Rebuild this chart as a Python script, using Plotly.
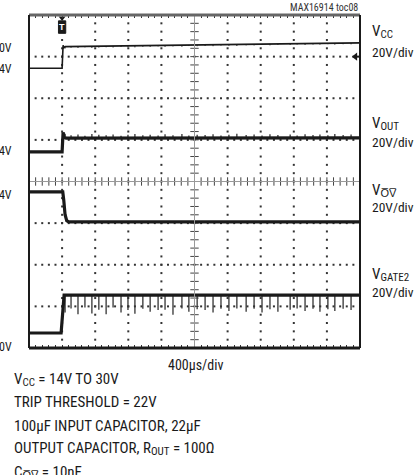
import plotly.graph_objects as go
import numpy as np

# ---------------- data (in scope divisions: x 0..10, y 0..8) ----------------
vcc_t = [0, 1.0, 1.03, 1.06, 1.10, 3.0, 5.0, 7.5, 10]
vcc_v = [6.72, 6.72, 7.27, 7.22, 7.24, 7.26, 7.28, 7.31, 7.33]

vout_t = [0, 1.0, 1.03, 1.06, 1.12, 10]
vout_v = [4.71, 4.71, 5.18, 5.06, 5.04, 5.05]

vov_t = [0, 1.02, 1.05, 1.09, 1.14, 1.20, 10]
vov_v = [3.75, 3.75, 3.55, 3.20, 3.06, 3.03, 3.03]

vgate_t = [0, 0.97, 1.06, 10]
vgate_v = [0.36, 0.36, 1.27, 1.27]

# switching spikes (time in div), depth of VGATE2 dips, height of VOUT blips
spike_t = [1.09, 1.27, 1.48, 1.69, 1.90, 2.11, 2.33, 2.54, 2.78, 2.99, 3.20,
           3.44, 3.66, 3.90, 4.11, 4.35, 4.62, 4.83, 5.08, 5.32, 5.56, 5.80,
           6.04, 6.28, 6.56, 6.80, 7.04, 7.28, 7.52, 7.89, 8.10, 8.34, 8.58,
           8.79, 9.03, 9.24, 9.49, 9.73]
gate_dip = [0.42, 0.32, 0.46, 0.30, 0.44, 0.35, 0.46, 0.30, 0.42, 0.36, 0.45,
            0.33, 0.40, 0.36, 0.35, 0.47, 0.32, 0.40, 0.34, 0.36, 0.42, 0.33,
            0.38, 0.32, 0.40, 0.33, 0.42, 0.34, 0.40, 0.35, 0.32, 0.38, 0.33,
            0.40, 0.34, 0.38, 0.33, 0.36]
out_blip = [0.10, 0.07, 0.09, 0.06, 0.10, 0.08, 0.07, 0.09, 0.06, 0.08, 0.10,
            0.07, 0.08, 0.06, 0.09, 0.07, 0.10, 0.06, 0.08, 0.07, 0.09, 0.06,
            0.08, 0.10, 0.07, 0.08, 0.06, 0.09, 0.07, 0.08, 0.06, 0.09, 0.07,
            0.08, 0.06, 0.09, 0.07, 0.08]

# ---------------- layout constants ----------------
W, H = 419, 475
L, R, T, B = 29, 360, 15, 348   # plot area in pixels
FONT = "Liberation Sans Narrow, Roboto Condensed, Liberation Sans, Arial, sans-serif"
INK = "#1a1a1a"


def px(xp, yp):
    return (xp - L) / (R - L), (B - yp) / (B - T)


fig = go.Figure()

# ---- graticule dots ----
minor_x = np.round(np.arange(0, 10.001, 0.2), 3)
minor_y = np.round(np.arange(0, 8.001, 0.2), 3)
gx, gy = [], []
for xv in range(1, 10):
    if xv == 5:
        continue
    gx += [xv] * len(minor_y)
    gy += list(minor_y)
for yv in range(1, 8):
    if yv == 4:
        continue
    gx += list(minor_x)
    gy += [yv] * len(minor_x)
fig.add_trace(go.Scatter(x=gx, y=gy, mode="markers",
                         marker=dict(symbol="square", size=2, color="#333"),
                         hoverinfo="skip", showlegend=False))
# center axes with ticks
fig.add_shape(type="line", x0=0, x1=10, y0=4, y1=4, line=dict(color="#999", width=1))
fig.add_shape(type="line", x0=5, x1=5, y0=0, y1=8, line=dict(color="#999", width=1))
fig.add_trace(go.Scatter(x=list(minor_x), y=[4] * len(minor_x), mode="markers",
                         marker=dict(symbol="line-ns", size=6,
                                     line=dict(color="#444", width=1)),
                         hoverinfo="skip", showlegend=False))
fig.add_trace(go.Scatter(x=[5] * len(minor_y), y=list(minor_y), mode="markers",
                         marker=dict(symbol="line-ew", size=6,
                                     line=dict(color="#444", width=1)),
                         hoverinfo="skip", showlegend=False))


def spikes(ts, base, amps, sign):
    xs, ys = [], []
    for t, a in zip(ts, amps):
        b = np.interp(t, *base)
        xs += [t, t, None]
        ys += [b, b + sign * a, None]
    return xs, ys


# ---- traces ----
sx, sy = spikes(spike_t, (vgate_t, vgate_v), gate_dip, -1)
fig.add_trace(go.Scatter(x=sx, y=sy, mode="lines", line=dict(color="#333", width=1.3),
                         hoverinfo="skip", showlegend=False))
sx, sy = spikes(spike_t, (vout_t, vout_v), out_blip, 1)
fig.add_trace(go.Scatter(x=sx, y=sy, mode="lines", line=dict(color="#222", width=1.2),
                         hoverinfo="skip", showlegend=False))
sx, sy = spikes(spike_t, (vcc_t, vcc_v), [a * 0.4 for a in out_blip], -1)
fig.add_trace(go.Scatter(x=sx, y=sy, mode="lines", line=dict(color="#222", width=1),
                         hoverinfo="skip", showlegend=False))

fig.add_trace(go.Scatter(x=vcc_t, y=vcc_v, mode="lines", line=dict(color=INK, width=1.6),
                         name="VCC", showlegend=False))
fig.add_trace(go.Scatter(x=vout_t, y=vout_v, mode="lines", line=dict(color=INK, width=3.2),
                         name="VOUT", showlegend=False))
fig.add_trace(go.Scatter(x=vov_t, y=vov_v, mode="lines", line=dict(color=INK, width=3.2),
                         name="VOV", showlegend=False))
fig.add_trace(go.Scatter(x=vgate_t, y=vgate_v, mode="lines", line=dict(color=INK, width=3.2),
                         name="VGATE2", showlegend=False))

# ground marker (ch1) and trigger marker
fig.add_trace(go.Scatter(x=[9.86], y=[7.0], mode="markers",
                         marker=dict(symbol="triangle-left", size=7, color=INK),
                         hoverinfo="skip", showlegend=False))
fig.add_shape(type="line", x0=9.86, x1=10, y0=7.0, y1=7.0, line=dict(color=INK, width=2))
fig.add_trace(go.Scatter(x=[1.0], y=[7.93], mode="markers",
                         marker=dict(symbol="triangle-down", size=6, color=INK),
                         hoverinfo="skip", showlegend=False))
fig.add_shape(type="rect", x0=0.89, x1=1.11, y0=7.56, y1=7.86,
              line=dict(color=INK, width=1), fillcolor=INK)
fig.add_annotation(x=1.0, y=7.71, text="<b>T</b>", showarrow=False,
                   font=dict(family="Liberation Sans, Arial", size=9, color="white"))

# ---- borders ----
fig.add_shape(type="line", xref="paper", yref="paper", x0=0, x1=1, y0=1, y1=1,
              line=dict(color="#666", width=3))
fig.add_shape(type="line", xref="paper", yref="paper", x0=0, x1=1, y0=0, y1=0,
              line=dict(color=INK, width=3))
fig.add_shape(type="line", xref="paper", yref="paper", x0=0, x1=0, y0=0, y1=1,
              line=dict(color=INK, width=2))
fig.add_shape(type="line", xref="paper", yref="paper", x0=1, x1=1, y0=0, y1=1,
              line=dict(color=INK, width=2))

# ---- text ----
def txt(xp, yp, s, size, anchor="left", color=INK):
    ax, ay = px(xp, yp)
    fig.add_annotation(xref="paper", yref="paper", x=ax, y=ay, text=s, showarrow=False,
                       xanchor=anchor, yanchor="middle",
                       font=dict(family=FONT, size=size, color=color))


def sub(s, size):
    return f"<span style='font-size:{size}px;baseline-shift:-2px'>{s}</span>"


txt(360, 8, "MAX16914 toc08", 10, "right", "#333")

# left level labels (partly off-canvas)
txt(14, 48, "30V", 12, "right")
txt(14, 69, "14V", 12, "right")
txt(14, 151, "14V", 12, "right")
txt(14, 195, "14V", 12, "right")
txt(14, 347, "0V", 12, "right")

# right channel labels
txt(370, 32, "V" + sub("CC", 11), 15)
txt(370, 52, "20V/div", 13.5)
txt(370, 124, "V" + sub("OUT", 11), 15)
txt(370, 142, "20V/div", 13.5)
txt(370, 190, "V" + sub("O\u0305V\u0305", 11), 15)
txt(370, 207, "20V/div", 13.5)
txt(370, 274, "V" + sub("GATE2", 11), 15)
txt(370, 292, "20V/div", 13.5)

txt(195, 365, "400\u00b5s/div", 14, "center")

lines = ["V" + sub("CC", 11) + " = 14V TO 30V",
         "TRIP THRESHOLD = 22V",
         "100\u00b5F INPUT CAPACITOR, 22\u00b5F",
         "OUTPUT CAPACITOR, R" + sub("OUT", 11) + " = 100\u03a9",
         "C" + sub("O\u0305V\u0305", 11) + " = 10nF"]
for i, s in enumerate(lines):
    txt(12, 379 + 23.3 * i, s, 15)

fig.update_layout(
    width=W, height=H,
    margin=dict(l=L, r=W - R, t=T, b=H - B, pad=0),
    paper_bgcolor="white", plot_bgcolor="white",
    xaxis=dict(range=[0, 10], showgrid=False, zeroline=False, showticklabels=False,
               ticks="inside", tick0=0, dtick=0.2, ticklen=3, tickcolor="#333",
               showline=False, mirror="ticks", fixedrange=True),
    yaxis=dict(range=[0, 8], showgrid=False, zeroline=False, showticklabels=False,
               ticks="", showline=False, fixedrange=True),
)

fig.write_html("out.html", config={"displayModeBar": False},
               post_script="document.body.style.margin='0';"
                           "document.body.style.overflow='hidden';")
